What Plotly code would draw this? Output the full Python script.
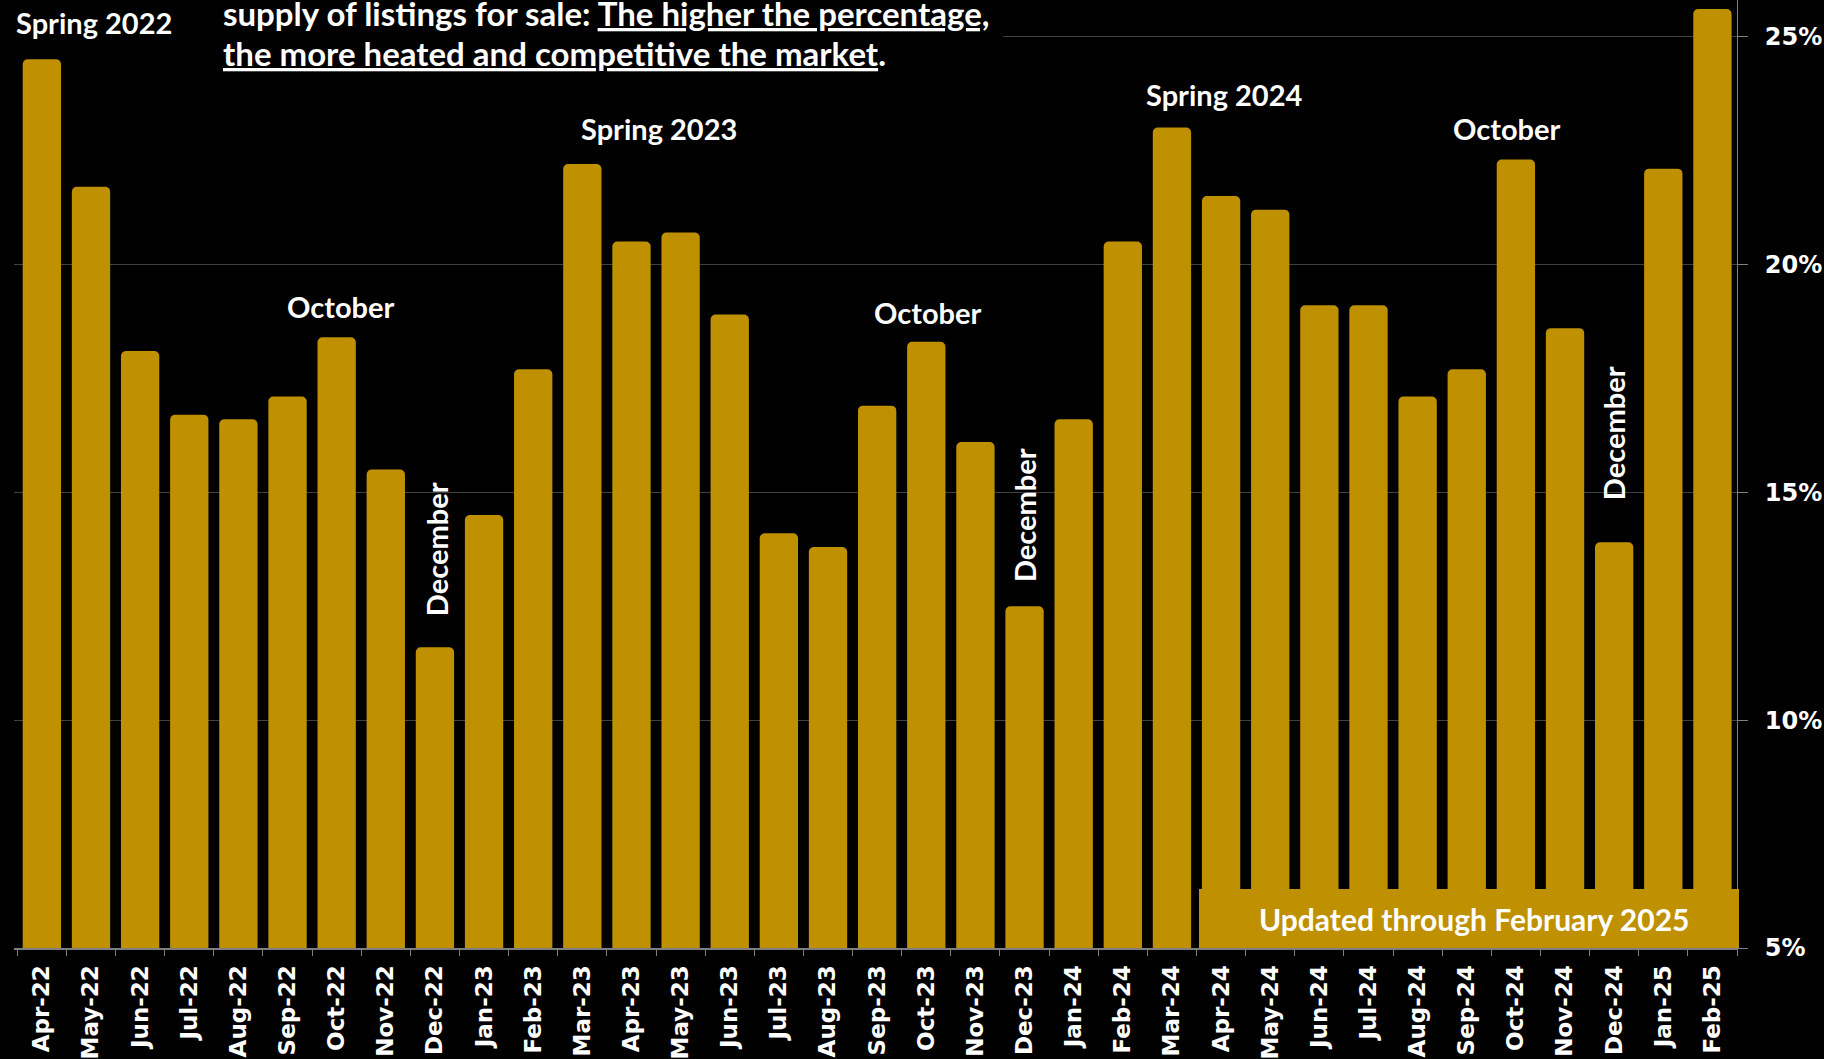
import plotly.graph_objects as go

months = ["Apr-22","May-22","Jun-22","Jul-22","Aug-22","Sep-22","Oct-22","Nov-22","Dec-22",
          "Jan-23","Feb-23","Mar-23","Apr-23","May-23","Jun-23","Jul-23","Aug-23","Sep-23","Oct-23","Nov-23","Dec-23",
          "Jan-24","Feb-24","Mar-24","Apr-24","May-24","Jun-24","Jul-24","Aug-24","Sep-24","Oct-24","Nov-24","Dec-24",
          "Jan-25","Feb-25"]
values = [24.5, 21.7, 18.1, 16.7, 16.6, 17.1, 18.4, 15.5, 11.6,
          14.5, 17.7, 22.2, 20.5, 20.7, 18.9, 14.1, 13.8, 16.9, 18.3, 16.1, 12.5,
          16.6, 20.5, 23.0, 21.5, 21.2, 19.1, 19.1, 17.1, 17.7, 22.3, 18.6, 13.9,
          22.1, 25.6]

y_ticks = [5, 10, 15, 20, 25]
y_tick_labels = ["5%", "10%", "15%", "20%", "25%"]

# event labels: text, anchor category, y position (data units), x shift px, angle
event_text = ["Spring 2022", "October", "December", "Spring 2023", "October", "December",
              "Spring 2024", "October", "December"]
event_cat = ["May-22", "Oct-22", "Dec-22", "Apr-23", "Oct-23", "Dec-23", "Apr-24", "Oct-24", "Dec-24"]
event_y = [25.3, 19.08, 13.75, 22.98, 18.95, 14.49, 23.72, 22.98, 16.3]
event_dx = [3, 4, 1, 28, 2, 0, 3, -9, 0]
event_angle = [0, 0, -90, 0, 0, -90, 0, 0, -90]

header_lines = ["supply of listings for sale: <u>The higher the percentage,</u>",
                "<u>the more heated and competitive the market</u>."]
footnote = "Updated through February 2025"

GOLD = "#BF9000"
W, H = 1824, 1059
ML, MR, MT, MB = 14, 87, 0, 111
PW, PH = W - ML - MR, H - MT - MB

def px_x(p):
    return (p - ML) / PW

def px_y(p):
    return (H - MB - p) / PH

fig = go.Figure()
fig.add_trace(go.Bar(x=months, y=values, marker=dict(color=GOLD, line=dict(width=0), cornerradius=5),
                     width=0.78, hoverinfo="skip"))

ann_font = dict(family="Lato", size=29, color="white", weight="bold")
head_font = dict(family="Lato", size=33, color="white", weight="bold")

annotations = []
for t, c, yv, dx, ang in zip(event_text, event_cat, event_y, event_dx, event_angle):
    annotations.append(dict(x=c, y=yv, xref="x", yref="y", text=t, showarrow=False,
                            xshift=dx, textangle=ang, font=ann_font,
                            xanchor="center", yanchor="middle"))

annotations.append(dict(x=px_x(221), y=px_y(13), xref="paper", yref="paper", text=header_lines[0],
                        showarrow=False, xanchor="left", yanchor="middle", font=head_font))
annotations.append(dict(x=px_x(221), y=px_y(53), xref="paper", yref="paper", text=header_lines[1],
                        showarrow=False, xanchor="left", yanchor="middle", font=head_font))
annotations.append(dict(x=px_x(1474), y=px_y(919), xref="paper", yref="paper", text=footnote,
                        showarrow=False, xanchor="center", yanchor="middle",
                        font=dict(family="Lato", size=30, color="white", weight="bold")))

shapes = [
    dict(type="rect", xref="paper", yref="paper", x0=-0.01, x1=px_x(1003), y0=px_y(50), y1=1.0,
         fillcolor="black", line=dict(width=0), layer="above"),
    dict(type="rect", xref="paper", yref="paper", x0=px_x(1199), x1=px_x(1739), y0=0, y1=px_y(889),
         fillcolor=GOLD, line=dict(width=0), layer="above"),
]

fig.update_layout(
    width=W, height=H,
    margin=dict(l=ML, r=MR, t=MT, b=MB, pad=0),
    paper_bgcolor="black", plot_bgcolor="black",
    showlegend=False,
    bargap=0.22,
    annotations=annotations,
    shapes=shapes,
    xaxis=dict(
        type="category", categoryorder="array", categoryarray=months,
        tickangle=-90, tickfont=dict(family="DejaVu Sans", size=23, color="white", weight="bold"),
        showline=True, linecolor="#7f7f7f", linewidth=2,
        ticks="outside", tickson="boundaries", ticklen=6, tickcolor="#7f7f7f", tickwidth=1,
        ticklabelstandoff=6,
        showgrid=False, zeroline=False, fixedrange=True,
    ),
    yaxis=dict(
        side="right", range=[5, 25.8],
        tickvals=y_ticks, ticktext=y_tick_labels,
        tickfont=dict(family="DejaVu Sans", size=24, color="white", weight="bold"),
        showline=True, linecolor="#7f7f7f", linewidth=1,
        ticks="outside", ticklen=10, tickcolor="#7f7f7f",
        ticklabelstandoff=12,
        showgrid=True, gridcolor="#404040", gridwidth=1, zeroline=False, fixedrange=True,
    ),
)

fig.write_html("out.html", config={"displayModeBar": False})
